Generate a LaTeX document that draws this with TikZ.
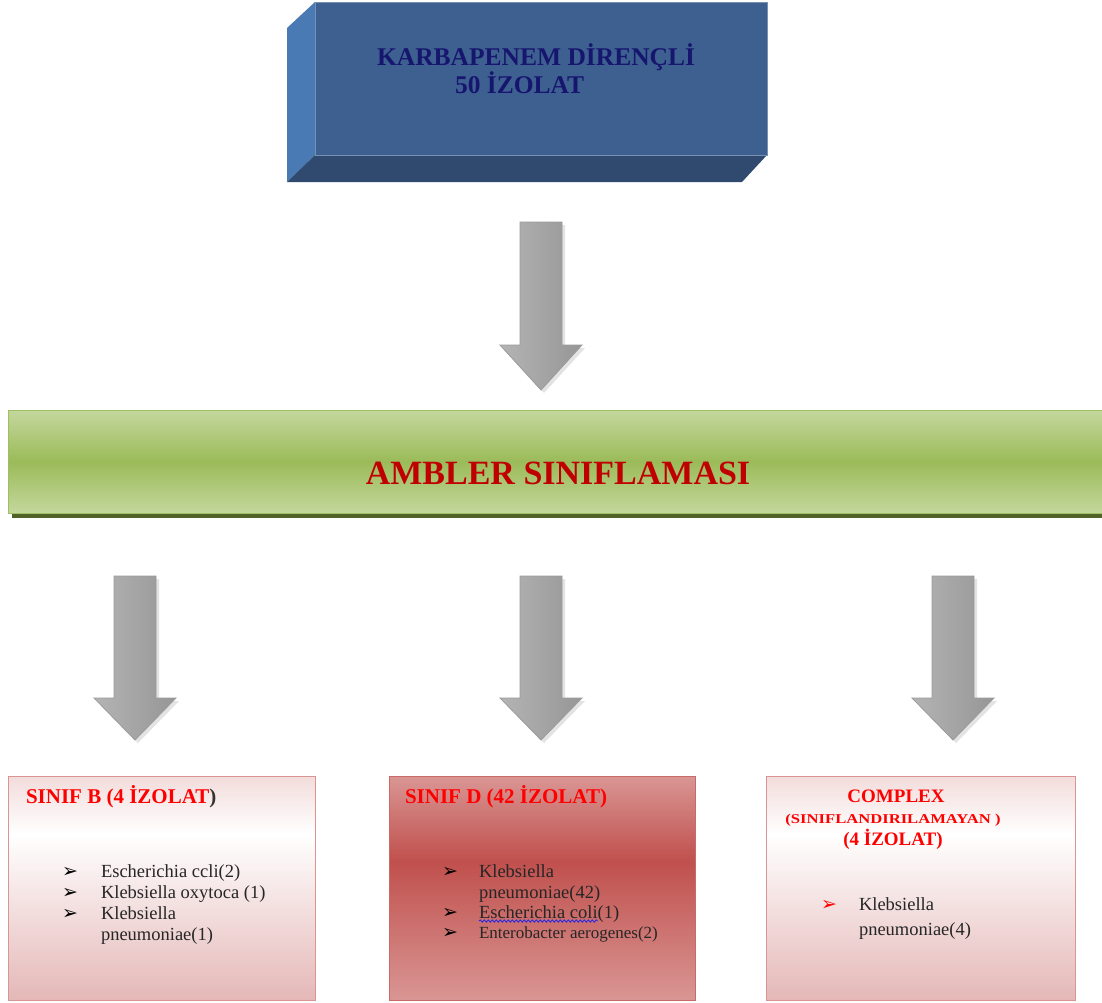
\documentclass[tikz,border=0pt]{standalone}
\usepackage{fontspec}
\setmainfont{Liberation Serif}
\newfontfamily\dejavu{DejaVu Sans}
\usetikzlibrary{decorations.pathmorphing}
\definecolor{navytxt}{RGB}{22,22,110}
\definecolor{frontface}{RGB}{62,96,145}
\definecolor{sideface}{RGB}{74,122,180}
\definecolor{bottomface}{RGB}{47,74,110}
\definecolor{greenlight}{RGB}{196,215,157}
\definecolor{greenmid}{RGB}{155,187,89}
\definecolor{greenedge}{RGB}{160,190,100}
\definecolor{greenshadow}{RGB}{80,98,40}
\definecolor{pinktop}{RGB}{242,220,219}
\definecolor{pinkbot}{RGB}{228,184,183}
\definecolor{pinkedge}{RGB}{217,149,148}
\definecolor{redlight}{RGB}{217,150,148}
\definecolor{redmid}{RGB}{192,80,77}
\definecolor{redtitle}{RGB}{255,0,0}
\definecolor{ambler}{RGB}{192,0,0}
\definecolor{arrL}{RGB}{180,180,180}
\definecolor{arrM}{RGB}{218,218,218}
\definecolor{arrR}{RGB}{150,150,150}
\definecolor{arrEdge}{RGB}{155,155,155}
\definecolor{spell}{RGB}{40,40,230}
\pgfdeclareverticalshading{pinkshade}{100bp}{color(0bp)=(pinkbot); color(25bp)=(pinkbot); color(62bp)=(white); color(75bp)=(pinktop); color(100bp)=(pinktop)}
\pgfdeclareverticalshading{redshade}{100bp}{color(0bp)=(redlight); color(25bp)=(redlight); color(56bp)=(redmid); color(75bp)=(redlight); color(100bp)=(redlight)}
\newcommand\blockarr[5]{%
  \coordinate (#1) at (#2,#3);
  \fill[gray!22] ({#2-21+3},{#3+3}) -- ({#2+21+3},{#3+3}) -- ({#2+21+3},{#4+3}) -- ({#2+41+3},{#4+3}) -- ({#2+3},{#5+3}) -- ({#2-41+3},{#4+3}) -- ({#2-21+3},{#4+3}) -- cycle;
  \path[arrowfill] ({#2-21},#3) -- ({#2+21},#3) -- ({#2+21},#4) -- ({#2+41},#4) -- (#2,#5) -- ({#2-41},#4) -- ({#2-21},#4) -- cycle;
}
\tikzset{
  arrowfill/.style={draw=arrEdge, line width=0.8pt, left color=arrL, middle color=arrM, right color=arrR},
  sidebox/.style={draw=pinkedge, line width=1pt, shading=pinkshade, anchor=north west, minimum width=307pt, minimum height=224pt},
  redbox/.style={draw=redmid!85!white, line width=1pt, shading=redshade, anchor=north west, minimum width=306pt, minimum height=224pt},
  titletxt/.style={anchor=base west, font=\rmfamily\fontsize{21}{24}\selectfont\bfseries, text=redtitle},
  itemtxt/.style={anchor=base west, font=\rmfamily\fontsize{18.5}{21}\selectfont, text=black!85},
  bullet/.style={anchor=base, font=\dejavu\fontsize{19}{19}\selectfont, text=black}
}
\begin{document}
\begin{tikzpicture}[x=1pt,y=-1pt, every node/.style={inner sep=0pt, outer sep=0pt}]
\useasboundingbox (0,0) rectangle (1102,1002);
\fill[white] (0,0) rectangle (1102,1002);

% top 3D box
\fill[sideface] (287,28) -- (315,2) -- (315,155) -- (287,182) -- cycle;
\fill[bottomface] (287,182) -- (315,155) -- (767,155) -- (742,182) -- cycle;
\node[fill=frontface, draw=frontface!70!white, line width=0.6pt, anchor=north west, minimum width=452pt, minimum height=153pt] (topbox) at (315,2) {};
\node[anchor=base west, font=\rmfamily\fontsize{25.5}{28}\selectfont\bfseries, text=navytxt] (t1) at (377,65) {KARBAPENEM DİRENÇLİ};
\node[anchor=base west, font=\rmfamily\fontsize{25.5}{28}\selectfont\bfseries, text=navytxt] (t2) at (455,93) {50 İZOLAT};

% arrow from top box to bar
\blockarr{a0}{541}{222}{345}{390}

% green bar
\fill[greenshadow] (12,512) rectangle (1102,518);
\node[draw=greenedge, line width=1pt, top color=greenlight, bottom color=greenlight, middle color=greenmid, anchor=north west, minimum width=1100pt, minimum height=103pt] (bar) at (8,410) {};
\node[anchor=base, font=\rmfamily\fontsize{34}{36}\selectfont\bfseries, text=ambler] (btxt) at (558,484) {AMBLER SINIFLAMASI};

% arrows from bar
\blockarr{a1}{135}{576}{698}{740}
\blockarr{a2}{541}{576}{698}{740}
\blockarr{a3}{953}{576}{698}{740}

% boxes
\node[sidebox] (boxB) at (8,776) {};
\node[redbox] (boxD) at (389,776) {};
\node[sidebox, minimum width=309pt] (boxC) at (766,776) {};

% box B
\node[titletxt] (bT) at (26,803) {SINIF B (4 İZOLAT\textcolor{black!80})};
\node[bullet] (bb1) at (70,877) {➢};
\node[itemtxt] (b1) at (101,877) {Escherichia ccli(2)};
\node[bullet] (bb2) at (70,898) {➢};
\node[itemtxt] (b2) at (101,898) {Klebsiella oxytoca (1)};
\node[bullet] (bb3) at (70,919) {➢};
\node[itemtxt] (b3) at (101,919) {Klebsiella};
\node[itemtxt] (b4) at (101,940) {pneumoniae(1)};

% box D
\node[titletxt] (dT) at (405,803) {SINIF D (42 İZOLAT)};
\node[bullet] (db1) at (450,877) {➢};
\node[itemtxt] (d1) at (479,877) {Klebsiella};
\node[itemtxt] (d2) at (479,898) {pneumoniae(42)};
\node[bullet] (db2) at (450,918) {➢};
\node[itemtxt] (d3) at (479,918) {Escherichia coli};
\node[itemtxt, anchor=base west] (d3b) at (d3.base east) {(1)};
\draw[spell, line width=0.9pt, decorate, decoration={snake, amplitude=1.1pt, segment length=4pt}] ([yshift=-3pt]d3.base west) -- ([yshift=-3pt]d3.base east);
\node[bullet] (db3) at (450,938) {➢};
\node[itemtxt, font=\rmfamily\fontsize{17}{20}\selectfont] (d4) at (479,938) {Enterobacter aerogenes(2)};

% box C
\node[anchor=base, font=\rmfamily\fontsize{19}{22}\selectfont\bfseries, text=redtitle] (cT1) at (896,802) {COMPLEX};
\node[anchor=base, font=\rmfamily\fontsize{13.5}{16}\selectfont\bfseries, text=redtitle] (cT2) at (893,823) {\scalebox{1.23}[1]{(SINIFLANDIRILAMAYAN )}};
\node[anchor=base, font=\rmfamily\fontsize{19}{22}\selectfont\bfseries, text=redtitle] (cT3) at (893,845) {(4 İZOLAT)};
\node[bullet, text=redtitle] (cb1) at (829,910) {➢};
\node[itemtxt] (c1) at (859,910) {Klebsiella};
\node[itemtxt] (c2) at (859,935) {pneumoniae(4)};
\end{tikzpicture}
\end{document}
